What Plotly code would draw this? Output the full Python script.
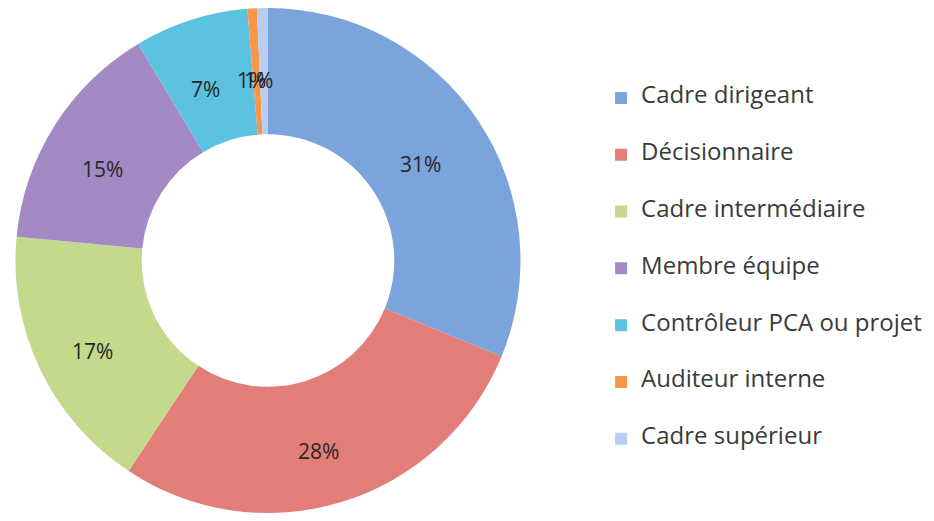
import math
import plotly.graph_objects as go

# Répartition des répondants par fonction
labels = ["Cadre dirigeant", "Décisionnaire", "Cadre intermédiaire", "Membre équipe",
          "Contrôleur PCA ou projet", "Auditeur interne", "Cadre supérieur"]
values = [31.2, 28.1, 17.2, 14.9, 7.3, 0.6, 0.7]
colors = ["#7ba3dc", "#e37d78", "#c3da8c", "#a48ac5", "#5bc2df", "#f79646", "#b7cdf1"]

W, H = 934, 521
dom_x = [0.008, 0.5487]
dom_y = [0.0307, 1.0]
hole = 0.5

# blank lines around each label give the wider legend spacing of the original
legend_labels = [f"<br><span style='font-size:24px'>{lab}</span><br>" for lab in labels]

total = sum(values)

fig = go.Figure()

fig.add_trace(go.Pie(
    labels=legend_labels,
    values=values,
    hole=hole,
    sort=False,
    direction="clockwise",
    rotation=0,
    marker=dict(colors=colors, line=dict(width=0)),
    textinfo="none",
    domain=dict(x=dom_x, y=dom_y),
    hoverinfo="skip",
))

# percentages sit in the middle of the ring, like the Excel data labels
cx = (dom_x[0] + dom_x[1]) / 2 * W
cy = (1 - (dom_y[0] + dom_y[1]) / 2) * H
r_out = min((dom_x[1] - dom_x[0]) * W, (dom_y[1] - dom_y[0]) * H) / 2
r_mid = r_out * (1 + hole) / 2

cum = 0
for v in values:
    ang = (cum + v / 2) / total * 2 * math.pi
    cum += v
    px = cx + r_mid * math.sin(ang)
    py = cy - r_mid * math.cos(ang)
    fig.add_annotation(
        x=px / W, y=1 - py / H, xref="paper", yref="paper",
        xanchor="center", yanchor="middle", xshift=-5, yshift=-9,
        text=f"{round(v / total * 100)}%", showarrow=False,
        font=dict(family="Open Sans", size=21, color="#262626"),
    )

fig.update_layout(
    width=W,
    height=H,
    margin=dict(l=0, r=0, t=0, b=0),
    paper_bgcolor="white",
    legend=dict(
        x=0.635, y=0.5, xanchor="left", yanchor="middle",
        font=dict(family="Open Sans", size=13.8, color="#3a3a3a"),
        itemclick=False,
    ),
)

fig.write_html("out.html")
